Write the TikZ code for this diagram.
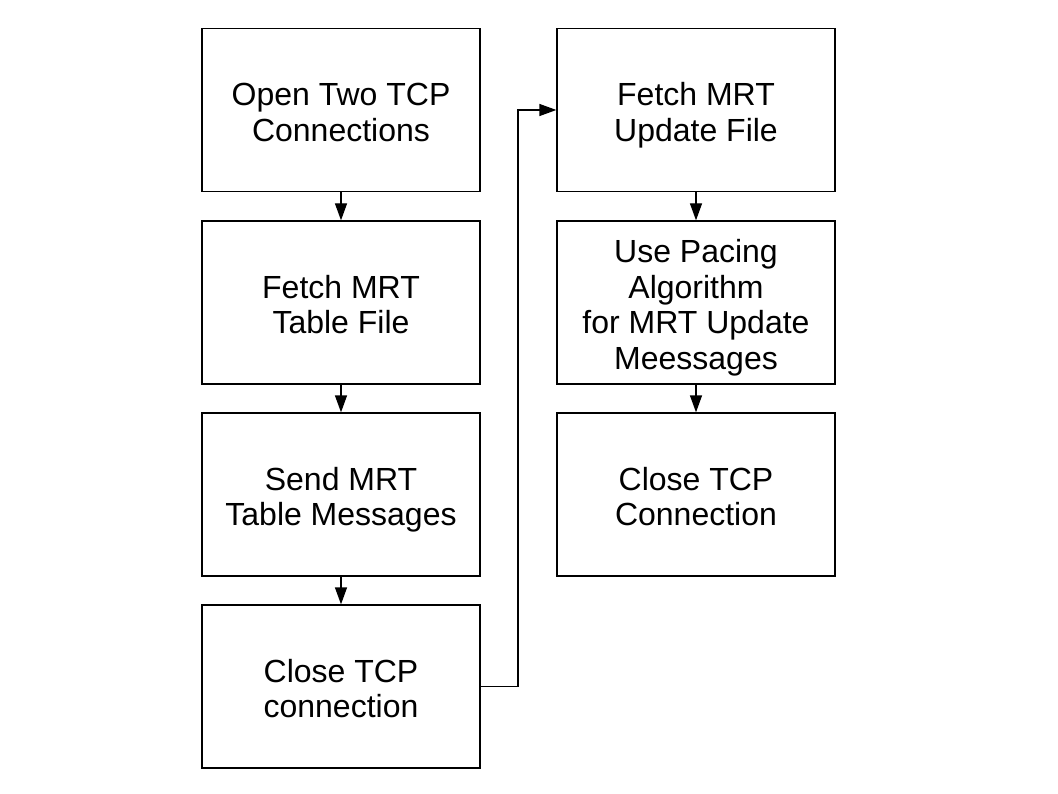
\documentclass[tikz,border=0pt]{standalone}
\usepackage{fontspec}
\setmainfont{Liberation Sans}
\usetikzlibrary{arrows.meta}
\renewcommand\arraystretch{0}
\newcommand\ls[1]{\rule[-4.3pt]{0pt}{35.5pt}\smash{#1}}
\newcommand\boxtext[1]{\begin{tabular}{@{}c@{}}#1\end{tabular}}
\begin{document}
\begin{tikzpicture}[x=1pt,y=-1pt,
  stepbox/.style={draw=black, line width=1.3pt, minimum width=278pt, minimum height=163pt,
    inner sep=0pt, font=\fontsize{32}{35.5}\selectfont},
  conn/.style={line width=1.3pt, -{Triangle[length=17pt,width=12pt]}}]
\useasboundingbox (0,0) rectangle (1058,794);
\node[stepbox] (b1) at (341,110) {\boxtext{\ls{Open Two TCP}\\\ls{Connections}}};
\node[stepbox] (b2) at (341,302.5) {\boxtext{\ls{Fetch MRT}\\\ls{Table File}}};
\node[stepbox] (b3) at (341,494.5) {\boxtext{\ls{Send MRT}\\\ls{Table Messages}}};
\node[stepbox] (b4) at (341,686.5) {\boxtext{\ls{Close TCP}\\\ls{connection}}};
\node[stepbox] (b5) at (696,110) {\boxtext{\ls{Fetch MRT}\\\ls{Update File}}};
\node[stepbox] (b6) at (696,302.5) {\boxtext{\ls{Use Pacing}\\\ls{Algorithm}\\\ls{for MRT Update}\\\ls{Meessages}}};
\node[stepbox] (b7) at (696,494.5) {\boxtext{\ls{Close TCP}\\\ls{Connection}}};
\coordinate (turn) at (518,686.5);
\draw[conn] (b1) -- (b2);
\draw[conn] (b2) -- (b3);
\draw[conn] (b3) -- (b4);
\draw[conn] (b4.east) -- (turn) |- (b5.west);
\draw[conn] (b5) -- (b6);
\draw[conn] (b6) -- (b7);
\end{tikzpicture}
\end{document}
